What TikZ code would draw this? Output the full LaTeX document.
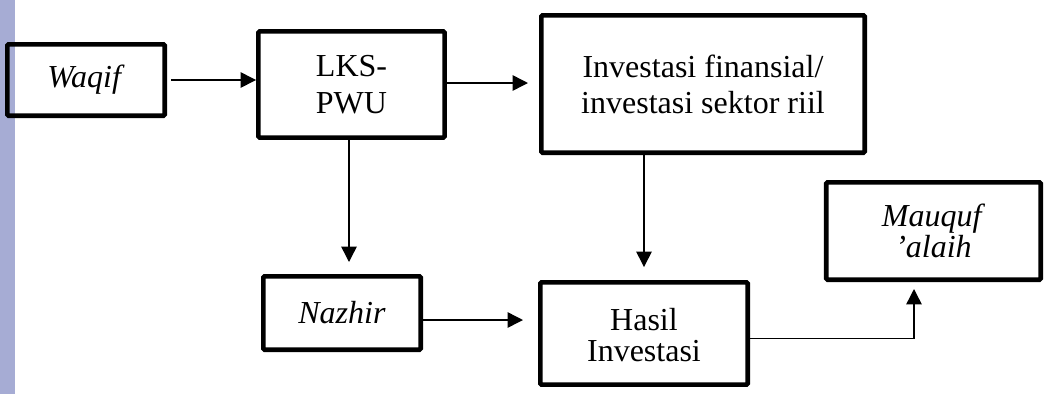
\documentclass[tikz,border=0pt]{standalone}
\usepackage{fontspec}
\setmainfont{Liberation Serif}
\usetikzlibrary{arrows.meta,calc}
\definecolor{stripcol}{RGB}{166,172,212}
\newcommand{\mytightlines}{\fontsize{24}{23}\selectfont\lineskiplimit=-20pt\relax}
\begin{document}
\begin{tikzpicture}[x=0.75pt,y=-0.75pt,
  box/.style={draw=black, line width=3.5pt, rounded corners=1pt, inner sep=0pt,
    align=center, font=\fontsize{24}{27.5}\selectfont},
  tight/.style={font=\mytightlines},
  arr/.style={line width=1.1pt, -{Triangle[length=11.5pt,width=11.5pt]}},
  conn/.style={line width=1.1pt}]
\useasboundingbox (0,0) rectangle (1057,394);
\fill[stripcol] (0,0) rectangle (15,394);

\node[box, minimum width=118pt, minimum height=53.5pt] (waqif) at (86,80) {\textit{Waqif}};
\node[box, minimum width=139.7pt, minimum height=79.7pt] (lks) at (351.5,84.5) {LKS-\\PWU};
\node[box, minimum width=242.5pt, minimum height=103pt, font=\fontsize{24}{27}\selectfont] (inv) at (703,84) {Investasi finansial/\\investasi sektor riil};
\node[box, minimum width=118pt, minimum height=55pt] (naz) at (342,313) {\textit{Nazhir}};
\node[box, tight, minimum width=155.5pt, minimum height=76.7pt] (hasil) at (644,333.5) {\rule{0pt}{19pt}Hasil\\Investasi};
\node[box, tight, minimum width=160.8pt, minimum height=73pt] (maq) at (933.5,231) {\textit{Mauquf}\\\textit{'alaih}};

\draw[arr, shorten <=3pt] (waqif.east) -- (waqif.east -| lks.west);
\coordinate (a1) at ($(lks.east)+(0,-1.5)$);
\draw[arr, shorten >=8.25pt] (a1) -- (a1 -| inv.west);
\coordinate (a2) at ($(lks.south)+(-2.5,0)$);
\draw[arr, shorten >=9pt] (a2) -- (a2 |- naz.north);
\draw[arr, shorten >=9.75pt] (hasil.north |- inv.south) -- (hasil.north);
\coordinate (a3) at ($(naz.east)+(0,7)$);
\draw[arr, shorten >=11.25pt] (a3) -- (a3 -| hasil.west);
\coordinate (a4) at ($(hasil.east)+(0,5)$);
\coordinate (a5) at ($(maq.south)+(-19.5,0)$);
\draw[arr, shorten >=5.25pt] (a4) -- (a4 -| a5) -- (a5);
\end{tikzpicture}
\end{document}
